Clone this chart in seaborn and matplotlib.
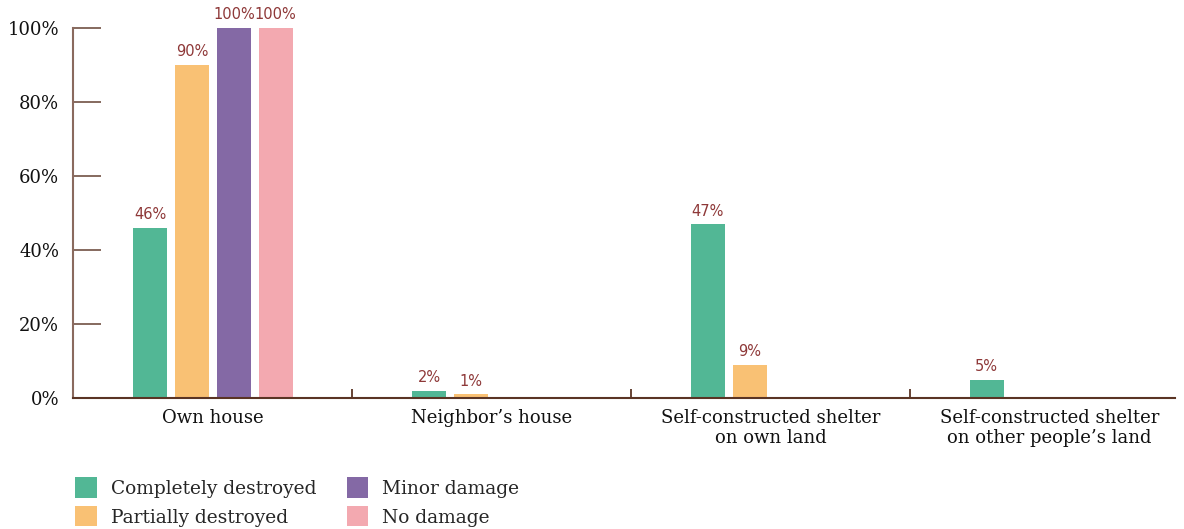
import matplotlib
matplotlib.use("Agg")
import matplotlib.pyplot as plt
from matplotlib.patches import Patch
import seaborn as sns
import pandas as pd

categories = ["Own house", "Neighbor\u2019s house",
              "Self-constructed shelter\non own land",
              "Self-constructed shelter\non other people\u2019s land"]
damage_levels = ["Completely destroyed", "Partially destroyed", "Minor damage", "No damage"]
completely_destroyed = [46, 2, 47, 5]
partially_destroyed = [90, 1, 9, 0]
minor_damage = [100, 0, 0, 0]
no_damage = [100, 0, 0, 0]
colors = ["#52B795", "#F9C174", "#8469A5", "#F3A9B0"]
y_ticks = [0, 20, 40, 60, 80, 100]

series = [completely_destroyed, partially_destroyed, minor_damage, no_damage]
rows = []
for level, vals in zip(damage_levels, series):
    for cat, v in zip(categories, vals):
        rows.append({"category": cat, "level": level, "value": v})
df = pd.DataFrame(rows)

sns.set_theme(style="white")
plt.rcParams["font.family"] = ["DejaVu Serif"]

fig = plt.figure(figsize=(11.84, 5.29), dpi=100)
ax = fig.add_axes([73 / 1184, 1 - 398 / 529, (1175 - 73) / 1184, (398 - 28) / 529])

sns.barplot(data=df, x="category", y="value", hue="level", order=categories,
            hue_order=damage_levels, palette=colors, width=0.6, gap=0.19,
            saturation=1, ax=ax, legend=False, errorbar=None, linewidth=0)

label_color = "#8E3838"
for cont, vals in zip(ax.containers, series):
    labels = [f"{v}%" if v > 0 else "" for v in vals]
    ax.bar_label(cont, labels=labels, padding=4, color=label_color,
                 fontsize=10.5, family="DejaVu Sans")

ax.set_ylim(0, 100)
ax.set_xlim(-0.502, 3.45)
ax.set_yticks(y_ticks)
ax.set_yticklabels([f"{t}%" for t in y_ticks], fontsize=13)
ax.tick_params(axis="y", left=True, direction="in", length=20, width=1.3, color="#7C5E52",
               pad=10, labelcolor="#111111")
ax.set_xticks(range(len(categories)))
ax.set_xticklabels(categories, fontsize=13, color="#111111", linespacing=1.15)
ax.tick_params(axis="x", which="major", bottom=False, length=0, pad=8)
ax.set_xticks([0.5, 1.5, 2.5], minor=True)
ax.tick_params(axis="x", which="minor", bottom=True, direction="in", length=6.5, width=1.3,
               color="#5A3424")
ax.set_xlabel("")
ax.set_ylabel("")

for s in ["top", "right"]:
    ax.spines[s].set_visible(False)
ax.spines["left"].set_color("#8A6A5E")
ax.spines["left"].set_linewidth(1.5)
ax.spines["bottom"].set_color("#5A3424")
ax.spines["bottom"].set_linewidth(1.5)

handles = [Patch(facecolor=c, edgecolor="none", label=l) for c, l in zip(colors, damage_levels)]
fig.legend(handles=handles, ncol=2, loc="upper left",
           bbox_to_anchor=(68 / 1184, 1 - 470 / 529), frameon=False, fontsize=13.4,
           handlelength=1.15, handleheight=1.3, handletextpad=0.75,
           columnspacing=1.65, labelspacing=0.45, borderaxespad=0)

fig.savefig("out.png", dpi=100)
